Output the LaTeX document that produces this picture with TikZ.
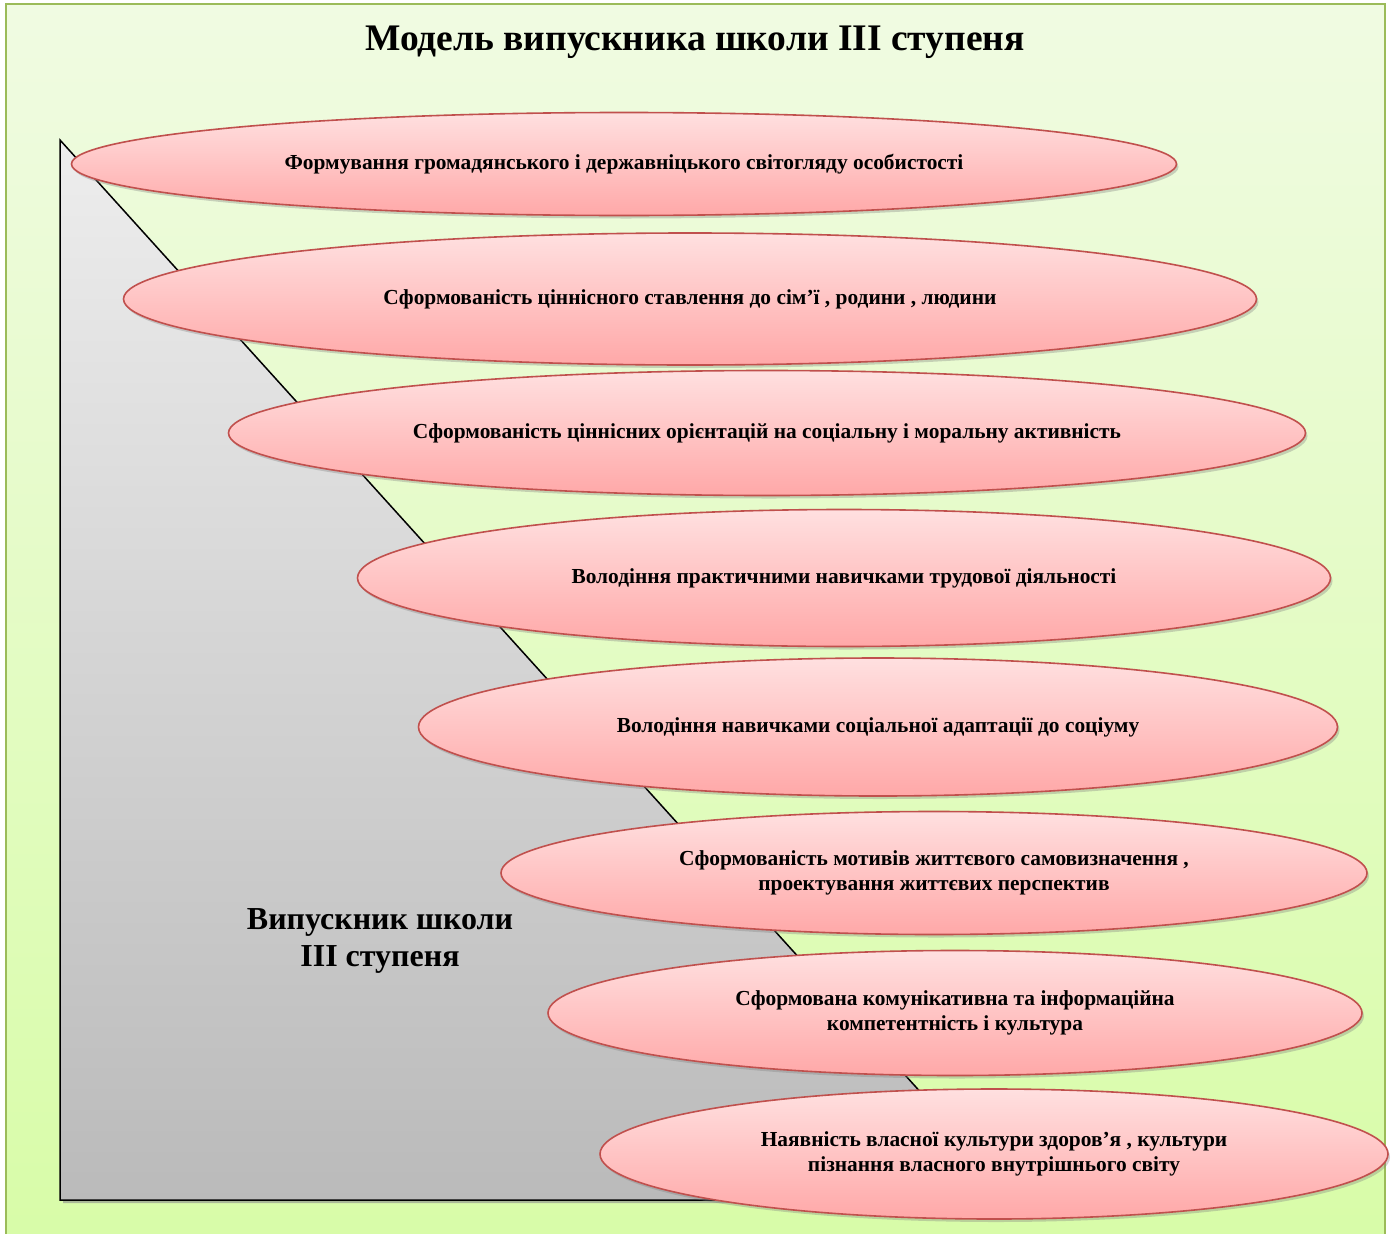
\documentclass[tikz,border=0pt]{standalone}
\usepackage{fontspec}
\setmainfont{Liberation Serif}
\usetikzlibrary{shapes.geometric,shadows,shadings}
\definecolor{bgtop}{HTML}{F0FBE2}
\definecolor{bgbot}{HTML}{D8FCA8}
\definecolor{frame}{HTML}{9BBB59}
\definecolor{eltop}{HTML}{FFE0E0}
\definecolor{elbot}{HTML}{FFA8A8}
\definecolor{elline}{HTML}{C0504D}
\tikzset{
  oval/.style={ellipse, draw=elline, line width=1.6pt, top color=eltop, bottom color=elbot,
    drop shadow={shadow xshift=2pt, shadow yshift=-3pt, opacity=0.35},
    inner sep=0pt, align=center, font=\bfseries\fontsize{21.4}{24.5}\selectfont},
}
\begin{document}
\begin{tikzpicture}[x=1pt,y=-1pt]
\useasboundingbox (0,0) rectangle (1395,1234);
% background frame
\shade[top color=bgtop, bottom color=bgbot] (6,4) rectangle (1385,1240);
\draw[frame, line width=2pt] (6,1240) -- (6,4) -- (1385,4) -- (1385,1240);
% title
\node (title) at (695,42) {\bfseries\fontsize{37.5}{42}\selectfont Модель випускника школи III ступеня};
% triangle
\fill[black!45, opacity=0.6] (63,143) -- (63,1203) -- (1021,1203) -- cycle;
\shade[top color=black!7, bottom color=black!27, draw=black, line width=1.5pt] (60,140) -- (60,1200) -- (1018,1200) -- cycle;
\node (grad) at (380,941) [align=center, font=\bfseries\fontsize{32}{37}\selectfont] {Випускник школи\\III ступеня};
% ellipses
\node[oval, minimum width=1105, minimum height=103] (e1) at (624,164) {Формування громадянського і державніцького світогляду особистості};
\node[oval, minimum width=1133, minimum height=132] (e2) at (690,299) {Сформованість ціннісного ставлення до сім’ї , родини , людини};
\node[oval, minimum width=1077, minimum height=125] (e3) at (767,433) {Сформованість ціннісних орієнтацій на соціальну і моральну активність};
\node[oval, minimum width=973, minimum height=137] (e4) at (844,578) {Володіння практичними навичками трудової діяльності};
\node[oval, minimum width=919, minimum height=138] (e5) at (878,727) {Володіння навичками соціальної адаптації до соціуму};
\node[oval, minimum width=866, minimum height=123] (e6) at (934,873) {Сформованість мотивів життєвого самовизначення ,\\проектування життєвих перспектив};
\node[oval, minimum width=814, minimum height=125] (e7) at (955,1013) {Сформована комунікативна та інформаційна\\компетентність і культура};
\node[oval, minimum width=788, minimum height=130] (e8) at (994,1154) {Наявність власної культури здоров’я , культури\\пізнання власного внутрішнього світу};
\end{tikzpicture}
\end{document}
